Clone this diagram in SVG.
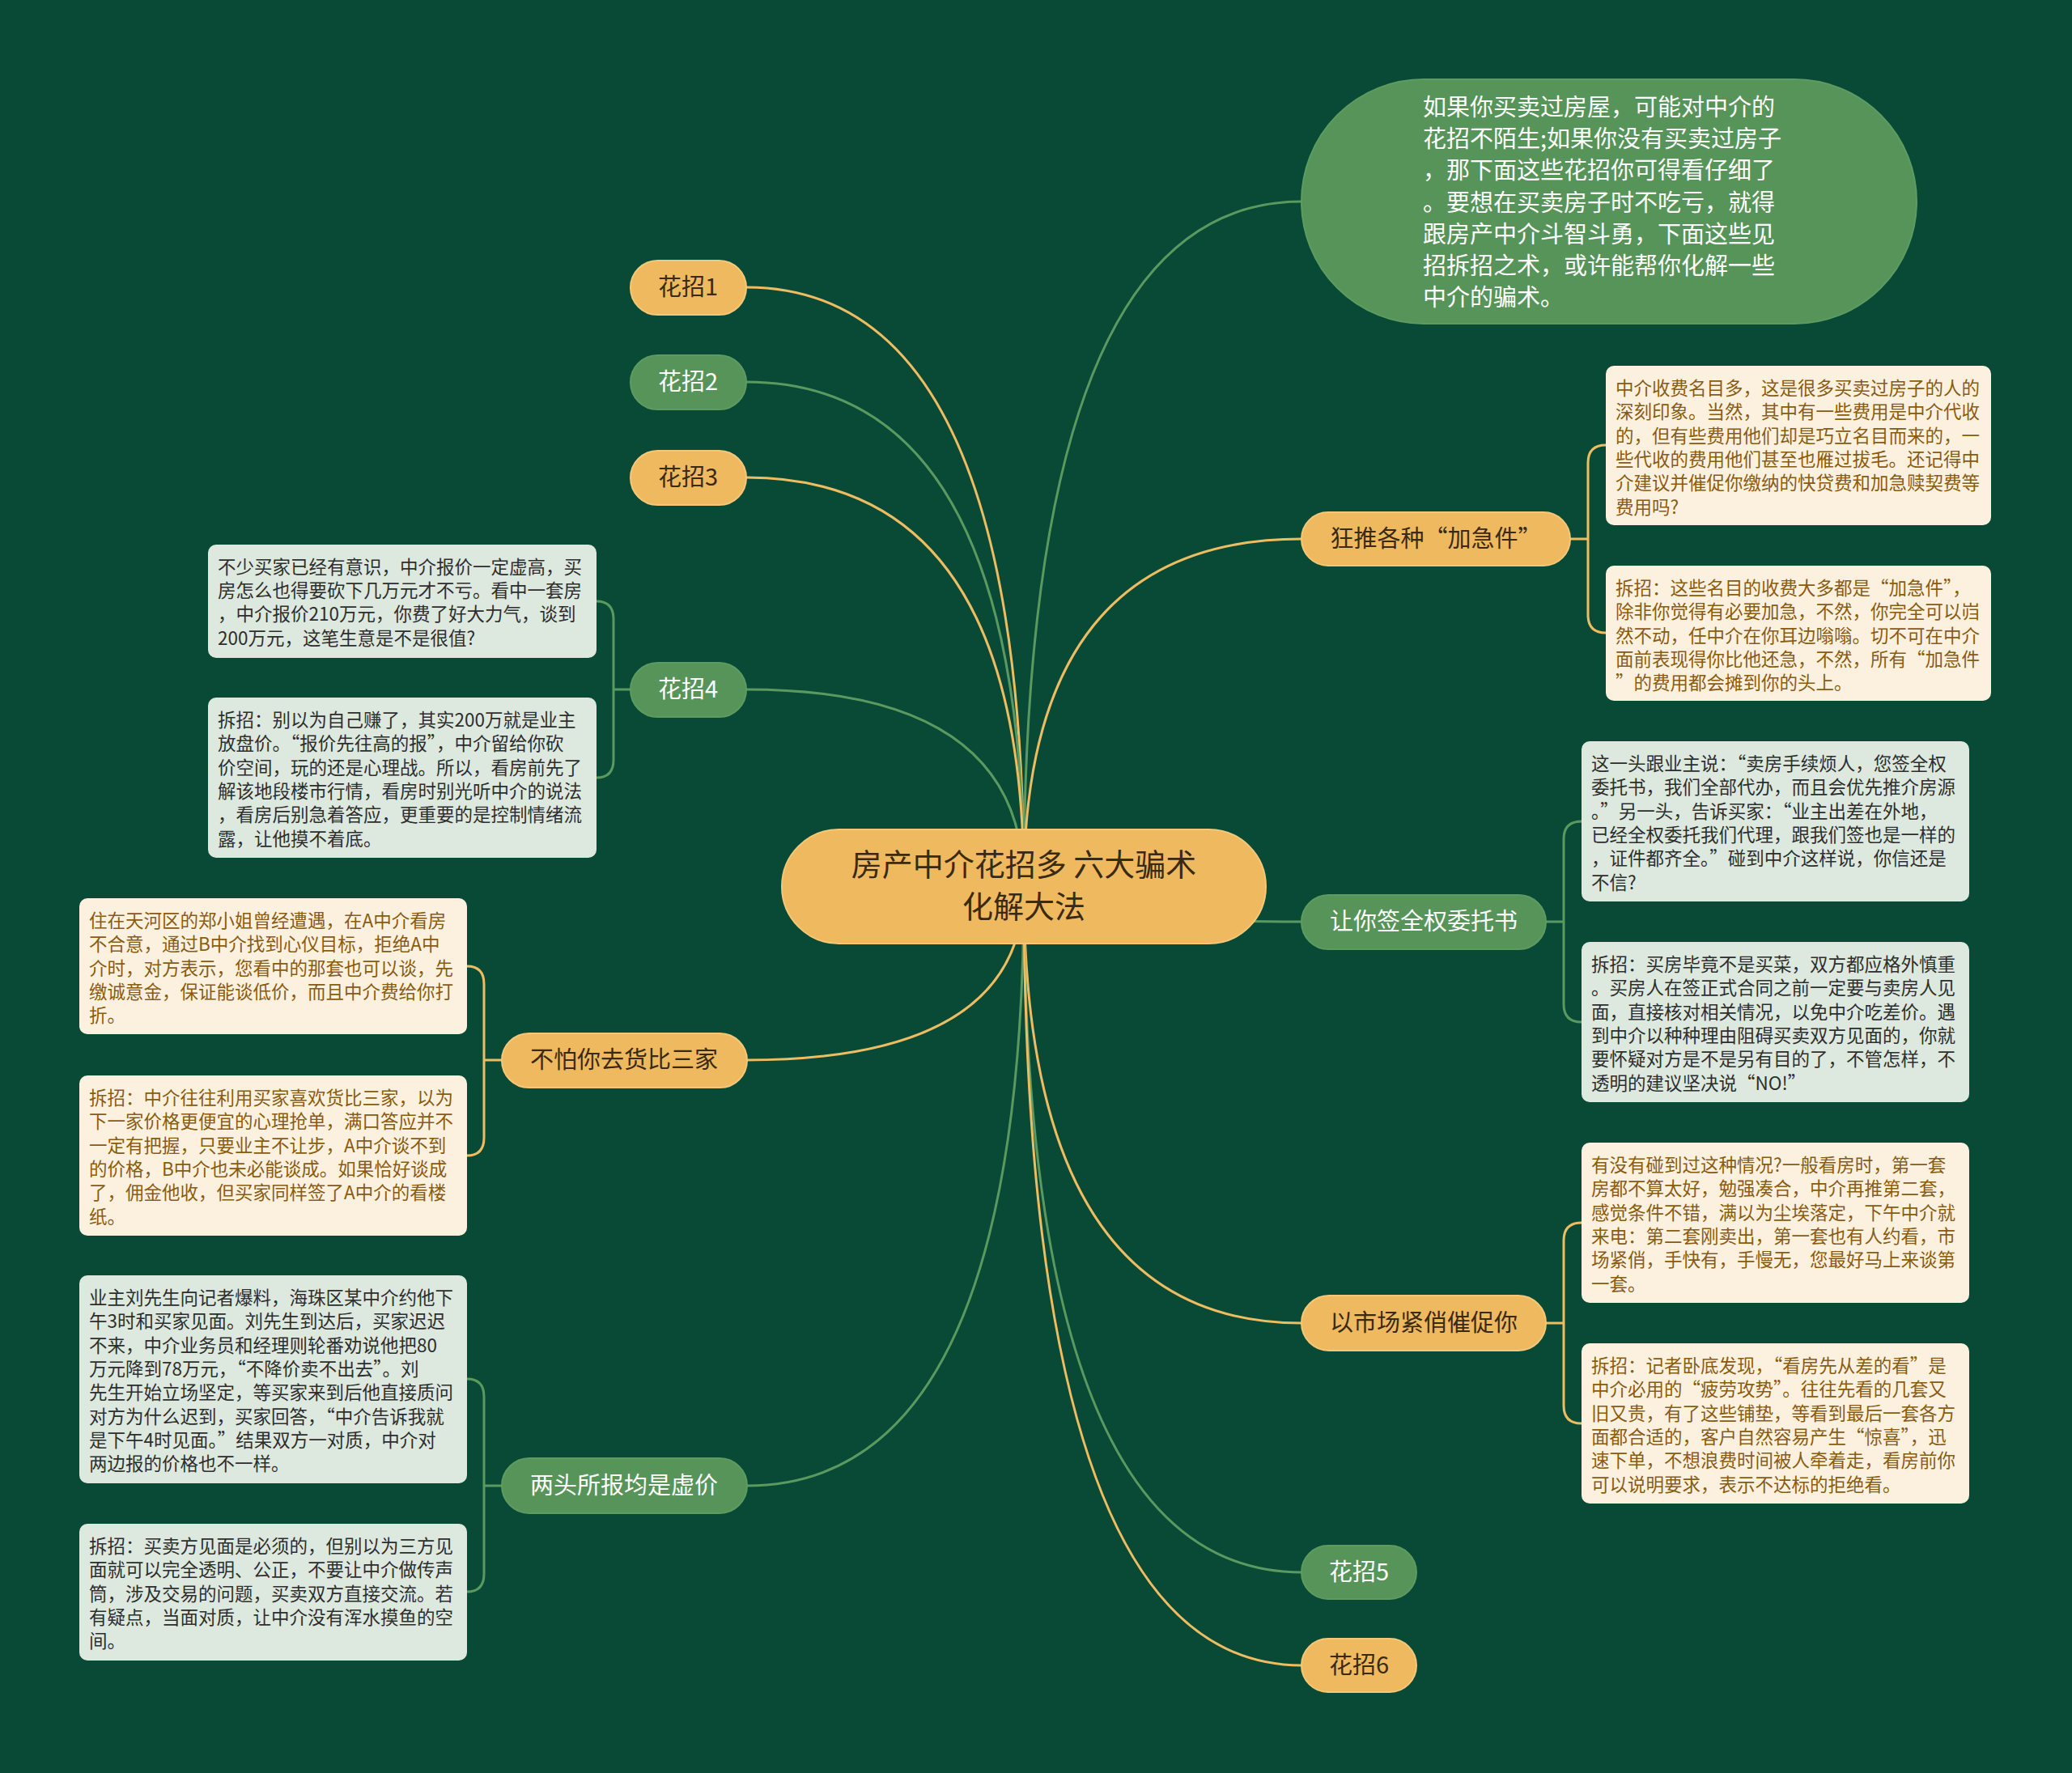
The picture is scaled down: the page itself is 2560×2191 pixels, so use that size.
<svg xmlns="http://www.w3.org/2000/svg" width="2560" height="2191" viewBox="0 0 2560 2191">
<style>
text{font-family:"Noto Sans CJK SC","Noto Sans",sans-serif}
.q{font-feature-settings:"fwid" 1}
.bg{fill:#094a37}
.co{fill:none;stroke:#eebd62;stroke-width:3}
.cg{fill:none;stroke:#5a9a60;stroke-width:3}
.no{fill:#efb960;stroke:#f4c878;stroke-width:2}
.ng{fill:#579459;stroke:#5d9c60;stroke-width:2}
.to{fill:#3a2a12;font-size:29px;text-anchor:middle}
.tg{fill:#ffffff;font-size:29px;text-anchor:middle}
.bc{fill:#fcf1de}
.bgn{fill:#dde9de}
.tc{fill:#8a5c12;font-size:22.5px}
.tp{fill:#2e2e2e;font-size:22.5px}
.ti{fill:#ffffff;font-size:29px}
.tm{fill:#3a2a12;font-size:38px;text-anchor:middle}
</style>
<rect class="bg" x="0" y="0" width="2560" height="2191"/>
<g id="connectors">
<path class="co" d="M1265,1095 Q1265,355 922,355"/>
<path class="cg" d="M1265,1095 Q1265,472 922,472"/>
<path class="co" d="M1265,1095 Q1265,590 922,590"/>
<path class="cg" d="M1265,1095 Q1265,852 922,852"/>
<path class="co" d="M1265,1095 Q1265,1310 922,1310"/>
<path class="cg" d="M1265,1095 Q1265,1836 922,1836"/>
<path class="cg" d="M1265,1095 Q1265,249 1608,249"/>
<path class="co" d="M1265,1095 Q1265,666 1608,666"/>
<path class="cg" d="M1265,1095 Q1265,1139 1608,1139"/>
<path class="co" d="M1265,1095 Q1265,1635 1608,1635"/>
<path class="cg" d="M1265,1095 Q1265,1943 1608,1943"/>
<path class="co" d="M1265,1095 Q1265,2058 1608,2058"/>
<path class="cg" d="M779,852 L758,852 M758,852 L758,765 Q758,743 737,743 M758,852 L758,939 Q758,961 737,961"/>
<path class="co" d="M620,1310 L598,1310 M598,1310 L598,1216 Q598,1194 577,1194 M598,1310 L598,1406 Q598,1428 577,1428"/>
<path class="cg" d="M620,1836 L598,1836 M598,1836 L598,1726 Q598,1704 577,1704 M598,1836 L598,1945 Q598,1967 577,1967"/>
<path class="co" d="M1940,666 L1962,666 M1962,666 L1962,572 Q1962,550 1984,550 M1962,666 L1962,760 Q1962,782 1984,782"/>
<path class="cg" d="M1910,1139 L1932,1139 M1932,1139 L1932,1037 Q1932,1015 1954,1015 M1932,1139 L1932,1241 Q1932,1263 1954,1263"/>
<path class="co" d="M1910,1635 L1932,1635 M1932,1635 L1932,1533 Q1932,1511 1954,1511 M1932,1635 L1932,1737 Q1932,1759 1954,1759"/>
</g>
<g id="center">
<rect class="no" x="966" y="1025" width="598" height="141" rx="70.5"/>
<text class="tm" x="1265" y="1082">房产中介花招多 六大骗术</text>
<text class="tm" x="1265" y="1134">化解大法</text>
</g>
<g id="intro">
<rect class="ng" x="1608" y="98" width="760" height="302" rx="151"/>
<text class="ti" x="1758" y="143">如果你买卖过房屋，可能对中介的</text>
<text class="ti" x="1758" y="182">花招不陌生;如果你没有买卖过房子</text>
<text class="ti" x="1758" y="221">，那下面这些花招你可得看仔细了</text>
<text class="ti" x="1758" y="261">。要想在买卖房子时不吃亏，就得</text>
<text class="ti" x="1758" y="300">跟房产中介斗智斗勇，下面这些见</text>
<text class="ti" x="1758" y="339">招拆招之术，或许能帮你化解一些</text>
<text class="ti" x="1758" y="378">中介的骗术。</text>
</g>
<g id="h1"><rect class="no" x="779" y="322" width="143" height="67" rx="33.5"/><text class="to" x="850" y="365">花招1</text></g>
<g id="h2"><rect class="ng" x="779" y="439" width="143" height="67" rx="33.5"/><text class="tg" x="850" y="482">花招2</text></g>
<g id="h3"><rect class="no" x="779" y="557" width="143" height="67" rx="33.5"/><text class="to" x="850" y="600">花招3</text></g>
<g id="h4"><rect class="ng" x="779" y="819" width="143" height="67" rx="33.5"/><text class="tg" x="850" y="862">花招4</text></g>
<g id="h4a">
<rect class="bgn" x="257" y="673" width="480" height="140" rx="10"/>
<text class="tp" x="269" y="709">不少买家已经有意识，中介报价一定虚高，买</text>
<text class="tp" x="269" y="738">房怎么也得要砍下几万元才不亏。看中一套房</text>
<text class="tp" x="269" y="767">，中介报价210万元，你费了好大力气，谈到</text>
<text class="tp" x="269" y="797">200万元，这笔生意是不是很值?</text>
</g>
<g id="h4b">
<rect class="bgn" x="257" y="862" width="480" height="198" rx="10"/>
<text class="tp" x="269" y="898">拆招：别以为自己赚了，其实200万就是业主</text>
<text class="tp q" x="269" y="927">放盘价。“报价先往高的报”，中介留给你砍</text>
<text class="tp" x="269" y="957">价空间，玩的还是心理战。所以，看房前先了</text>
<text class="tp" x="269" y="986">解该地段楼市行情，看房时别光听中介的说法</text>
<text class="tp" x="269" y="1015">，看房后别急着答应，更重要的是控制情绪流</text>
<text class="tp" x="269" y="1045">露，让他摸不着底。</text>
</g>
<g id="bp"><rect class="no" x="620" y="1277" width="303" height="67" rx="33.5"/><text class="to" x="771" y="1320">不怕你去货比三家</text></g>
<g id="bpa">
<rect class="bc" x="98" y="1110" width="479" height="168" rx="10"/>
<text class="tc" x="110" y="1146">住在天河区的郑小姐曾经遭遇，在A中介看房</text>
<text class="tc" x="110" y="1175">不合意，通过B中介找到心仪目标，拒绝A中</text>
<text class="tc" x="110" y="1205">介时，对方表示，您看中的那套也可以谈，先</text>
<text class="tc" x="110" y="1234">缴诚意金，保证能谈低价，而且中介费给你打</text>
<text class="tc" x="110" y="1263">折。</text>
</g>
<g id="bpb">
<rect class="bc" x="98" y="1329" width="479" height="198" rx="10"/>
<text class="tc" x="110" y="1365">拆招：中介往往利用买家喜欢货比三家，以为</text>
<text class="tc" x="110" y="1394">下一家价格更便宜的心理抢单，满口答应并不</text>
<text class="tc" x="110" y="1424">一定有把握，只要业主不让步，A中介谈不到</text>
<text class="tc" x="110" y="1453">的价格，B中介也未必能谈成。如果恰好谈成</text>
<text class="tc" x="110" y="1482">了，佣金他收，但买家同样签了A中介的看楼</text>
<text class="tc" x="110" y="1512">纸。</text>
</g>
<g id="lt"><rect class="ng" x="620" y="1802" width="303" height="68" rx="34"/><text class="tg" x="771" y="1846">两头所报均是虚价</text></g>
<g id="lta">
<rect class="bgn" x="98" y="1576" width="479" height="257" rx="10"/>
<text class="tp" x="110" y="1612">业主刘先生向记者爆料，海珠区某中介约他下</text>
<text class="tp" x="110" y="1641">午3时和买家见面。刘先生到达后，买家迟迟</text>
<text class="tp" x="110" y="1671">不来，中介业务员和经理则轮番劝说他把80</text>
<text class="tp" x="110" y="1700">万元降到78万元，<tspan class="q">“不降价卖不出去”</tspan>。刘</text>
<text class="tp" x="110" y="1729">先生开始立场坚定，等买家来到后他直接质问</text>
<text class="tp" x="110" y="1759">对方为什么迟到，买家回答，<tspan class="q">“</tspan>中介告诉我就</text>
<text class="tp" x="110" y="1788">是下午4时见面。<tspan class="q">”</tspan>结果双方一对质，中介对</text>
<text class="tp" x="110" y="1817">两边报的价格也不一样。</text>
</g>
<g id="ltb">
<rect class="bgn" x="98" y="1883" width="479" height="169" rx="10"/>
<text class="tp" x="110" y="1919">拆招：买卖方见面是必须的，但别以为三方见</text>
<text class="tp" x="110" y="1948">面就可以完全透明、公正，不要让中介做传声</text>
<text class="tp" x="110" y="1978">筒，涉及交易的问题，买卖双方直接交流。若</text>
<text class="tp" x="110" y="2007">有疑点，当面对质，让中介没有浑水摸鱼的空</text>
<text class="tp" x="110" y="2036">间。</text>
</g>
<g id="kt"><rect class="no" x="1608" y="633" width="332" height="66" rx="33"/><text class="to q" x="1774" y="676">狂推各种“加急件”</text></g>
<g id="kta">
<rect class="bc" x="1984" y="452" width="476" height="197" rx="10"/>
<text class="tc" x="1996" y="488">中介收费名目多，这是很多买卖过房子的人的</text>
<text class="tc" x="1996" y="517">深刻印象。当然，其中有一些费用是中介代收</text>
<text class="tc" x="1996" y="547">的，但有些费用他们却是巧立名目而来的，一</text>
<text class="tc" x="1996" y="576">些代收的费用他们甚至也雁过拔毛。还记得中</text>
<text class="tc" x="1996" y="605">介建议并催促你缴纳的快贷费和加急赎契费等</text>
<text class="tc" x="1996" y="635">费用吗?</text>
</g>
<g id="ktb">
<rect class="bc" x="1984" y="699" width="476" height="167" rx="10"/>
<text class="tc q" x="1996" y="735">拆招：这些名目的收费大多都是“加急件”，</text>
<text class="tc" x="1996" y="764">除非你觉得有必要加急，不然，你完全可以岿</text>
<text class="tc" x="1996" y="794">然不动，任中介在你耳边嗡嗡。切不可在中介</text>
<text class="tc q" x="1996" y="823">面前表现得你比他还急，不然，所有“加急件</text>
<text class="tc q" x="1996" y="852">”的费用都会摊到你的头上。</text>
</g>
<g id="rn"><rect class="ng" x="1608" y="1106" width="302" height="67" rx="33.5"/><text class="tg" x="1759" y="1149">让你签全权委托书</text></g>
<g id="rna">
<rect class="bgn" x="1954" y="916" width="479" height="198" rx="10"/>
<text class="tp q" x="1966" y="952">这一头跟业主说：“卖房手续烦人，您签全权</text>
<text class="tp" x="1966" y="981">委托书，我们全部代办，而且会优先推介房源</text>
<text class="tp q" x="1966" y="1011">。”另一头，告诉买家：“业主出差在外地，</text>
<text class="tp" x="1966" y="1040">已经全权委托我们代理，跟我们签也是一样的</text>
<text class="tp q" x="1966" y="1069">，证件都齐全。”碰到中介这样说，你信还是</text>
<text class="tp" x="1966" y="1099">不信?</text>
</g>
<g id="rnb">
<rect class="bgn" x="1954" y="1164" width="479" height="198" rx="10"/>
<text class="tp" x="1966" y="1200">拆招：买房毕竟不是买菜，双方都应格外慎重</text>
<text class="tp" x="1966" y="1229">。买房人在签正式合同之前一定要与卖房人见</text>
<text class="tp" x="1966" y="1259">面，直接核对相关情况，以免中介吃差价。遇</text>
<text class="tp" x="1966" y="1288">到中介以种种理由阻碍买卖双方见面的，你就</text>
<text class="tp" x="1966" y="1317">要怀疑对方是不是另有目的了，不管怎样，不</text>
<text class="tp" x="1966" y="1347">透明的建议坚决说<tspan class="q">“</tspan>NO!<tspan class="q">”</tspan></text>
</g>
<g id="sc"><rect class="no" x="1608" y="1601" width="302" height="68" rx="34"/><text class="to" x="1759" y="1645">以市场紧俏催促你</text></g>
<g id="sca">
<rect class="bc" x="1954" y="1412" width="479" height="198" rx="10"/>
<text class="tc" x="1966" y="1448">有没有碰到过这种情况?一般看房时，第一套</text>
<text class="tc" x="1966" y="1477">房都不算太好，勉强凑合，中介再推第二套，</text>
<text class="tc" x="1966" y="1507">感觉条件不错，满以为尘埃落定，下午中介就</text>
<text class="tc" x="1966" y="1536">来电：第二套刚卖出，第一套也有人约看，市</text>
<text class="tc" x="1966" y="1565">场紧俏，手快有，手慢无，您最好马上来谈第</text>
<text class="tc" x="1966" y="1595">一套。</text>
</g>
<g id="scb">
<rect class="bc" x="1954" y="1660" width="479" height="198" rx="10"/>
<text class="tc q" x="1966" y="1696">拆招：记者卧底发现，“看房先从差的看”是</text>
<text class="tc q" x="1966" y="1725">中介必用的“疲劳攻势”。往往先看的几套又</text>
<text class="tc" x="1966" y="1755">旧又贵，有了这些铺垫，等看到最后一套各方</text>
<text class="tc q" x="1966" y="1784">面都合适的，客户自然容易产生“惊喜”，迅</text>
<text class="tc" x="1966" y="1813">速下单，不想浪费时间被人牵着走，看房前你</text>
<text class="tc" x="1966" y="1843">可以说明要求，表示不达标的拒绝看。</text>
</g>
<g id="h5"><rect class="ng" x="1608" y="1910" width="142" height="66" rx="33"/><text class="tg" x="1679" y="1953">花招5</text></g>
<g id="h6"><rect class="no" x="1608" y="2025" width="142" height="66" rx="33"/><text class="to" x="1679" y="2068">花招6</text></g>
</svg>
